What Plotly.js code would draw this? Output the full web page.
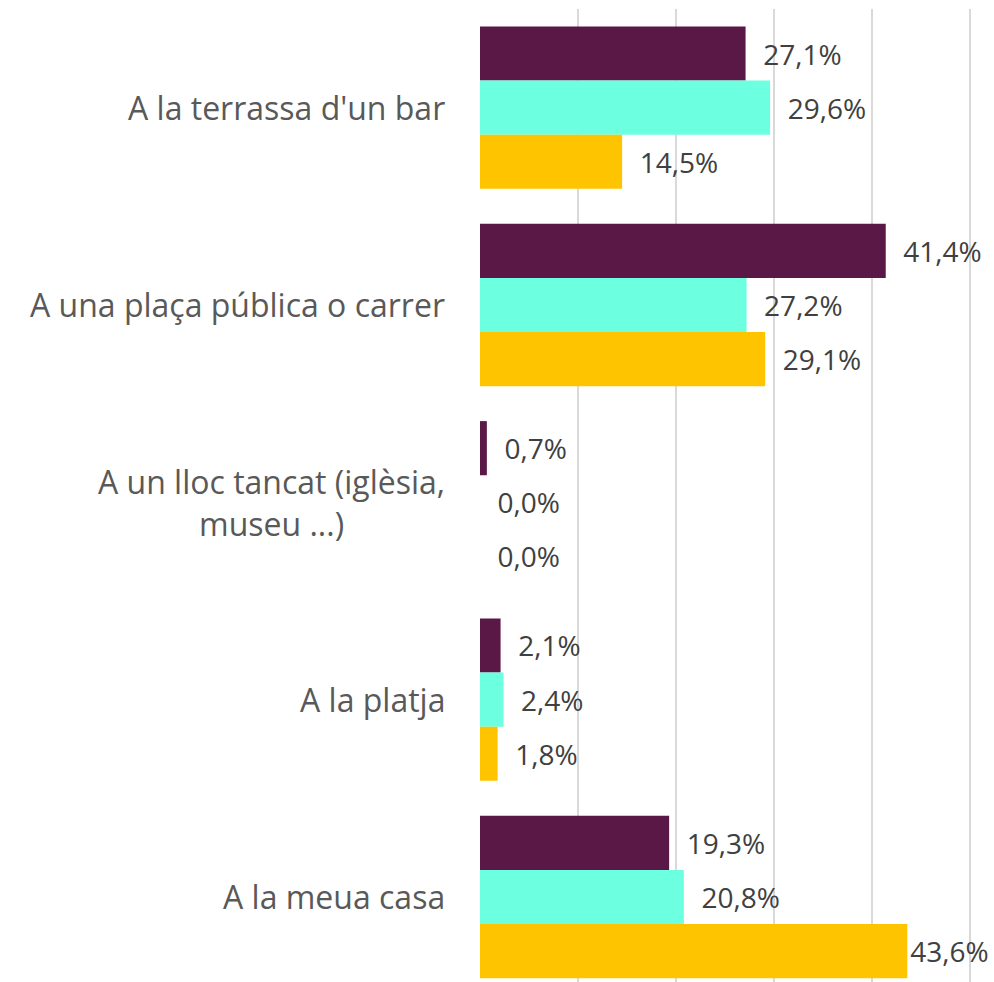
<!DOCTYPE html>
<html>
<head>
<meta charset="utf-8">
<script src="https://cdn.plot.ly/plotly-3.0.1.min.js"></script>
<style>html,body{margin:0;padding:0;background:#fff;}#chart{width:994px;height:982px;}</style>
</head>
<body>
<div id="chart"></div>
<script>
const categories = [
  "A la terrassa d'un bar",
  "A una plaça pública o carrer",
  "A un lloc tancat (iglèsia,<br>museu ...)",
  "A la platja",
  "A la meua casa"
];
const seriesNames = ["Sèrie 1", "Sèrie 2", "Sèrie 3"];
const series1 = [27.1, 41.4, 0.7, 2.1, 19.3];
const series2 = [29.6, 27.2, 0.0, 2.4, 20.8];
const series3 = [14.5, 29.1, 0.0, 1.8, 43.6];
const colors = ["#5a1846", "#6cffe0", "#ffc400"];

const xMax = 52.04;
const allSeries = [series1, series2, series3];
// labels that would run past the right edge are drawn without the extra gap
const tmpl = v => (v > 42 ? '%{x:.1f}%' : '\u00a0\u00a0%{x:.1f}%');
const traces = allSeries.map((vals, i) => ({
  type: 'bar',
  orientation: 'h',
  name: seriesNames[i],
  x: vals,
  y: categories,
  marker: {color: colors[i]},
  texttemplate: vals.map(tmpl),
  textposition: 'outside',
  cliponaxis: false,
  constraintext: 'none',
  textfont: {family: 'Open Sans', size: 28, color: '#404040'},
  hoverinfo: 'none'
}));

const annotations = categories.map(c => ({
  x: 0, xref: 'paper', xanchor: 'right', xshift: -33,
  y: c, yref: 'y', yanchor: 'middle',
  text: c, showarrow: false, align: 'center',
  font: {family: 'Open Sans', size: 32, color: '#595959'}
}));

const layout = {
  width: 994, height: 982,
  margin: {l: 480, r: 4, t: 9, b: 0},
  paper_bgcolor: '#ffffff',
  plot_bgcolor: 'rgba(0,0,0,0)',
  barmode: 'group',
  bargap: 0.177,
  bargroupgap: 0,
  separators: ',.',
  showlegend: false,
  xaxis: {
    range: [0, xMax], dtick: 10, showgrid: true, gridcolor: '#d9d9d9', gridwidth: 1.3,
    zeroline: false, showticklabels: false, showline: false, ticks: '', fixedrange: true
  },
  yaxis: {
    type: 'category', range: [4.431, -0.5], showticklabels: false, showgrid: false,
    zeroline: false, showline: false, ticks: ''
  },
  annotations: annotations
};

Plotly.newPlot('chart', traces, layout, {displayModeBar: false, staticPlot: true});
</script>
</body>
</html>
